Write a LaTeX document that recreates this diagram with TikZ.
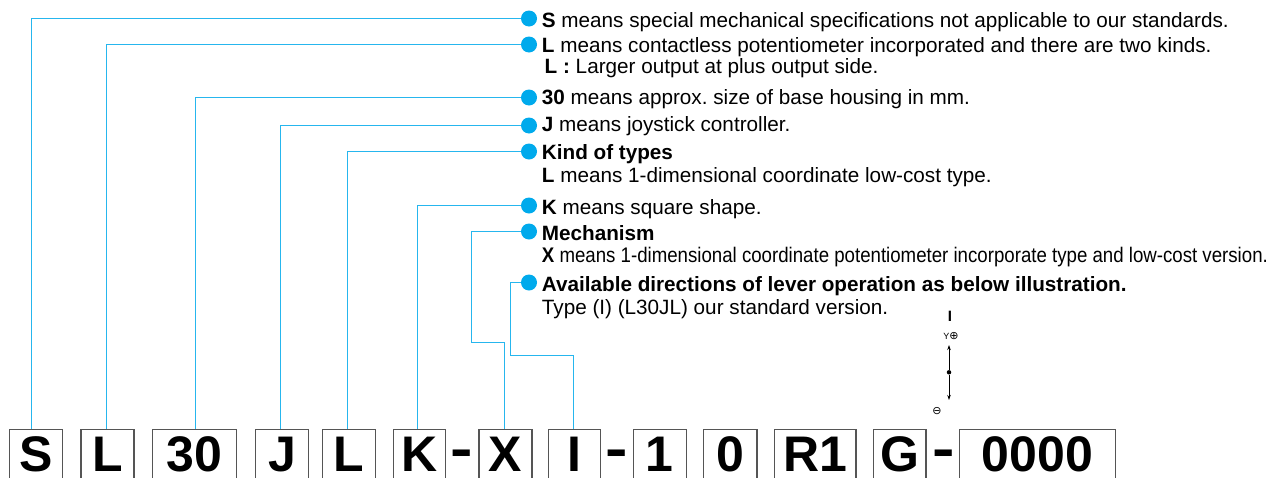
\documentclass[tikz,border=0pt]{standalone}
\usepackage{fontspec}
\setmainfont{Liberation Sans}
\newfontfamily\symfont{DejaVu Sans}
\usetikzlibrary{arrows.meta,calc}
\definecolor{lineblue}{RGB}{38,182,238}
\definecolor{dotblue}{RGB}{0,170,236}
\definecolor{boxgray}{RGB}{85,85,85}
\frenchspacing
\begin{document}
\begin{tikzpicture}[x=1pt,y=-1pt,
  conn/.style={draw=lineblue,line width=1.4pt},
  bullet/.style={circle,fill=dotblue,minimum size=16pt,inner sep=0pt},
  desc/.style={anchor=base west,inner sep=0pt,font=\fontsize{20.7}{21}\selectfont},
  codebox/.style={draw=boxgray,line width=1.2pt,anchor=north west,inner sep=0pt,minimum height=70pt},
  codetxt/.style={anchor=base,inner sep=0pt,text depth=0pt,font=\fontsize{50}{50}\selectfont\bfseries},
  dashtxt/.style={anchor=base,inner sep=0pt,text depth=0pt,font=\fontsize{50}{50}\selectfont\bfseries},
  joyarrow/.style={-{Stealth[length=5pt,width=3.5pt]},line width=0.8pt},
]
\useasboundingbox (0,0) rectangle (1275,477);
\clip (0,0) rectangle (1275,477);

% ---- code boxes ----
\node[codebox,minimum width=53pt] (boxS) at (9,428.5) {};
\node[codebox,minimum width=53pt] (boxL) at (80.4,428.5) {};
\node[codebox,minimum width=83.7pt] (box30) at (152.2,428.5) {};
\node[codebox,minimum width=53pt] (boxJ) at (255.1,428.5) {};
\node[codebox,minimum width=53pt] (boxL2) at (321.6,428.5) {};
\node[codebox,minimum width=52.2pt] (boxK) at (392.7,428.5) {};
\node[codebox,minimum width=53pt] (boxX) at (478.4,428.5) {};
\node[codebox,minimum width=52.2pt] (boxI) at (547.8,428.5) {};
\node[codebox,minimum width=52.6pt] (box1) at (632.9,428.5) {};
\node[codebox,minimum width=53.1pt] (box0) at (703.2,428.5) {};
\node[codebox,minimum width=81.4pt] (boxR) at (774,428.5) {};
\node[codebox,minimum width=52.7pt] (boxG) at (872.7,428.5) {};
\node[codebox,minimum width=155.5pt] (box00) at (959.1,428.5) {};

\node[codetxt] (cS) at ($(boxS.north)+(0,42.5)$) {S};
\node[codetxt] (cL) at ($(boxL.north)+(0,42.5)$) {L};
\node[codetxt] (c30) at ($(box30.north)+(0,42.5)$) {30};
\node[codetxt] (cJ) at ($(boxJ.north)+(0,42.5)$) {J};
\node[codetxt] (cL2) at ($(boxL2.north)+(0,42.5)$) {L};
\node[codetxt] (cK) at ($(boxK.north)+(0,42.5)$) {K};
\node[dashtxt] (d1) at (461.5,467) {\scalebox{1.35}[1.1]{-}};
\node[codetxt] (cX) at ($(boxX.north)+(0,42.5)$) {X};
\node[codetxt] (cI) at ($(boxI.north)+(0,42.5)$) {I};
\node[dashtxt] (d2) at (617,467) {\scalebox{1.35}[1.1]{-}};
\node[codetxt] (c1) at ($(box1.north)+(0,42.5)$) {1};
\node[codetxt] (c0) at ($(box0.north)+(0,42.5)$) {0};
\node[codetxt] (cR) at ($(boxR.north)+(0,42.5)$) {R1};
\node[codetxt] (cG) at ($(boxG.north)+(0,42.5)$) {G};
\node[dashtxt] (d3) at (943.5,467) {\scalebox{1.35}[1.1]{-}};
\node[codetxt] (c00) at ($(box00.north)+(0,42.5)$) {0000};

% ---- connector end points on the boxes ----
\coordinate (tS) at (31.5,428.5);
\coordinate (tL) at (106.5,428.5);
\coordinate (t30) at (195.5,428.5);
\coordinate (tJ) at (280.5,428.5);
\coordinate (tL2) at (347.5,428.5);
\coordinate (tK) at (417.5,428.5);
\coordinate (tX) at (504.5,428.5);
\coordinate (tI) at (573.5,428.5);
\coordinate (kM) at (471.5,342.5);
\coordinate (kA) at (510.5,355.5);

% ---- bullets (positions) ----
\coordinate (pS) at (529,18.5);
\coordinate (pL) at (529,44.5);
\coordinate (p30) at (529,97.5);
\coordinate (pJ) at (529,125.5);
\coordinate (pKind) at (529,151.5);
\coordinate (pK) at (529,205.5);
\coordinate (pM) at (529,231.5);
\coordinate (pA) at (529,282.5);

% ---- connectors ----
\draw[conn] (pS) -| (tS);
\draw[conn] (pL) -| (tL);
\draw[conn] (p30) -| (t30);
\draw[conn] (pJ) -| (tJ);
\draw[conn] (pKind) -| (tL2);
\draw[conn] (pK) -| (tK);
\draw[conn] (pM) -| (kM) -| (tX);
\draw[conn] (pA) -| (kA) -| (tI);

\node[bullet] (bS) at (pS) {};
\node[bullet] (bL) at (pL) {};
\node[bullet] (b30) at (p30) {};
\node[bullet] (bJ) at (pJ) {};
\node[bullet] (bKind) at (pKind) {};
\node[bullet] (bK) at (pK) {};
\node[bullet] (bM) at (pM) {};
\node[bullet] (bA) at (pA) {};

% ---- descriptions ----
\node[desc] (xS) at (541.7,27.3) {\textbf{S} means special mechanical specifications not applicable to our standards.};
\node[desc] (xL) at (541.7,52) {\textbf{L} means contactless potentiometer incorporated and there are two kinds.};
\node[desc] (xL2) at (544.5,73) {\textbf{L :} Larger output at plus output side.};
\node[desc] (x30) at (541.7,104) {\textbf{30} means approx. size of base housing in mm.};
\node[desc] (xJ) at (541.7,131.7) {\textbf{J} means joystick controller.};
\node[desc] (xKind) at (541.7,159.5) {\textbf{Kind of types}};
\node[desc] (xKind2) at (541.7,182) {\textbf{L} means 1-dimensional coordinate low-cost type.};
\node[desc] (xK) at (541.7,214.3) {\textbf{K} means square shape.};
\node[desc] (xM) at (541.7,240.5) {\textbf{Mechanism}};
\node[desc] (xM2) at (541.7,262.7) {\resizebox{726pt}{15.3pt}{\textbf{X} means 1-dimensional coordinate potentiometer incorporate type and low-cost version.}};
\node[desc] (xA) at (541.7,291) {\textbf{Available directions of lever operation as below illustration.}};
\node[desc] (xA2) at (541.7,314) {Type (I) (L30JL) our standard version.};

% ---- joystick illustration ----
\node[anchor=base,inner sep=0pt,font=\fontsize{15}{15}\selectfont\bfseries] (jI) at (950,321.5) {I};
\node[anchor=base,inner sep=0pt,font=\fontsize{9}{9}\selectfont] (jY) at (951,339) {Y{\symfont\fontsize{11}{11}\selectfont ⊕}};
\node[circle,fill=black,inner sep=0pt,minimum size=4.5pt] (jd) at (949,372.3) {};
\coordinate (jup) at (949,345);
\coordinate (jdn) at (949,400);
\draw[joyarrow] (jd) -- (jup);
\draw[joyarrow] (jd) -- (jdn);
\node[anchor=base,inner sep=0pt,font=\fontsize{11}{11}\selectfont\symfont] (jm) at (937,414) {⊖};
\end{tikzpicture}
\end{document}
